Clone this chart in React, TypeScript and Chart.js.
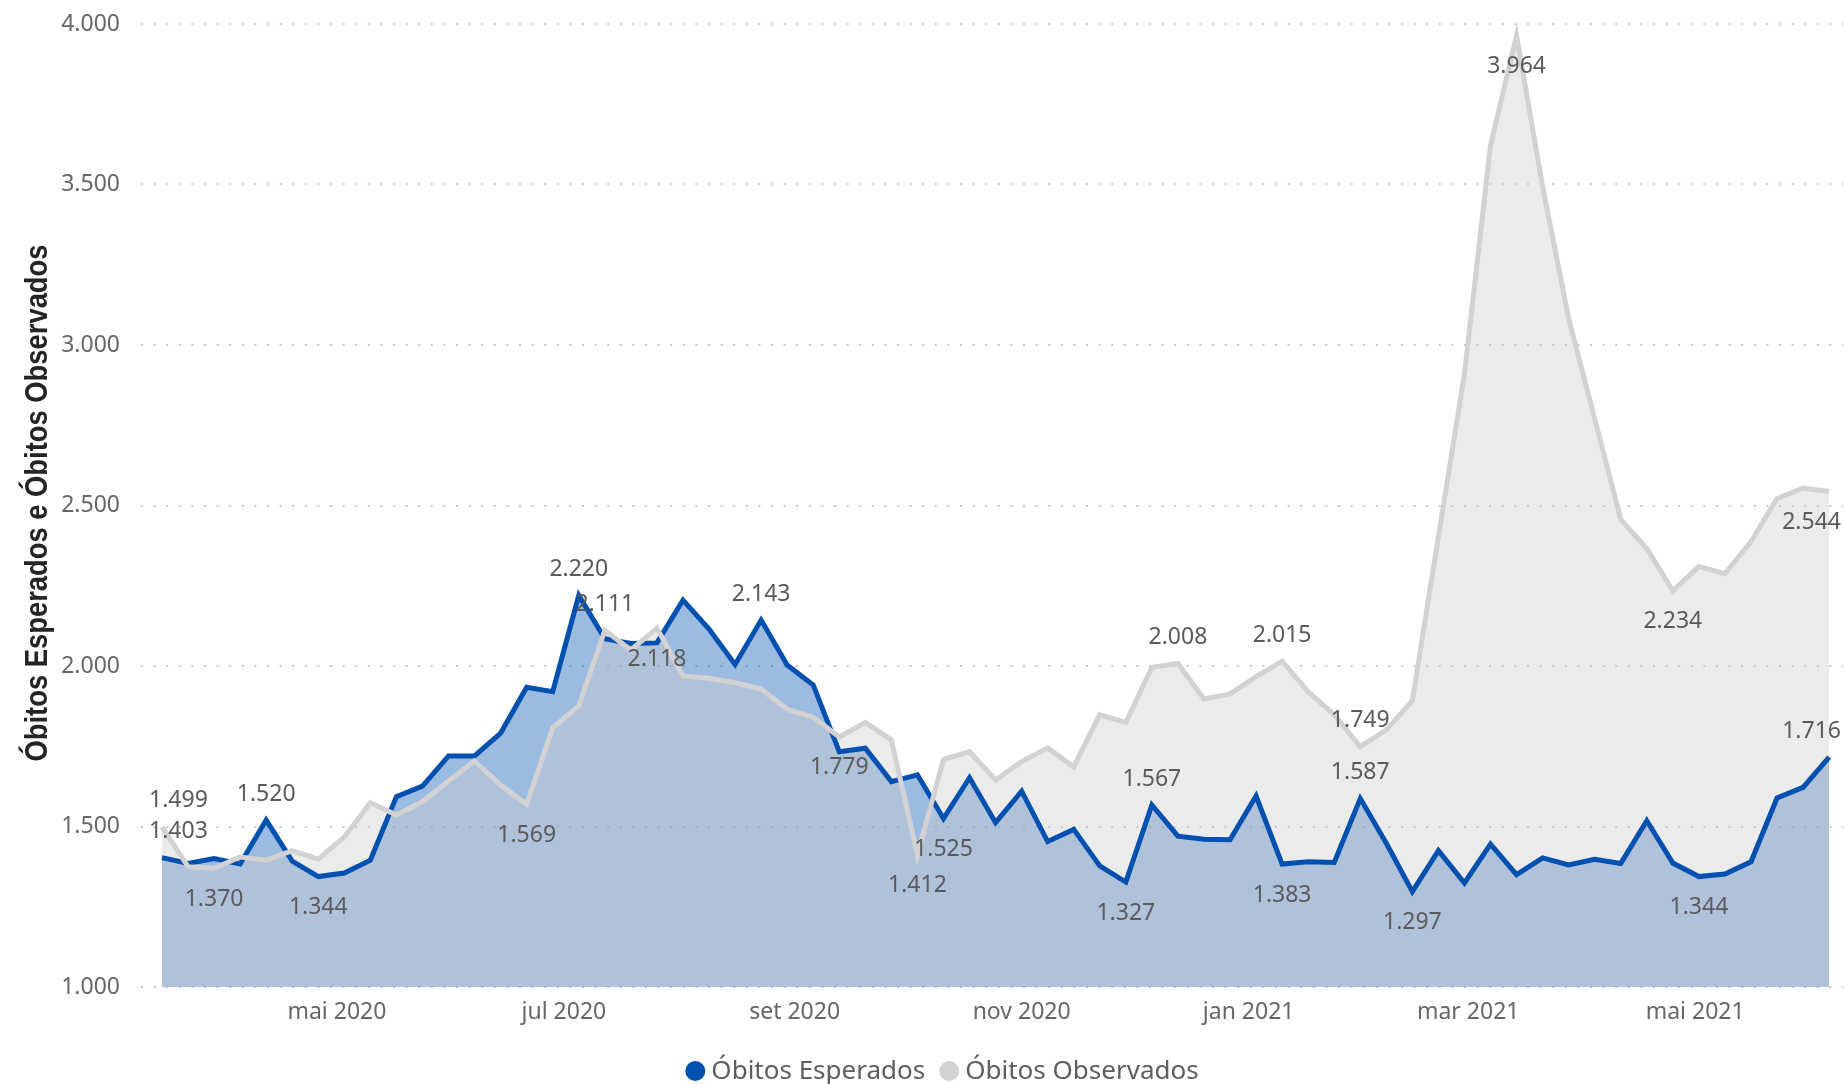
import React, { useEffect, useRef } from 'react';
import { Chart, registerables } from 'chart.js';

Chart.register(...registerables);

// Weekly categories (week dates)
const weekDates = [
  '2020-03-15', '2020-03-22', '2020-03-29', '2020-04-05', '2020-04-12', '2020-04-19', '2020-04-26',
  '2020-05-03', '2020-05-10', '2020-05-17', '2020-05-24', '2020-05-31', '2020-06-07', '2020-06-14',
  '2020-06-21', '2020-06-28', '2020-07-05', '2020-07-12', '2020-07-19', '2020-07-26', '2020-08-02',
  '2020-08-09', '2020-08-16', '2020-08-23', '2020-08-30', '2020-09-06', '2020-09-13', '2020-09-20',
  '2020-09-27', '2020-10-04', '2020-10-11', '2020-10-18', '2020-10-25', '2020-11-01', '2020-11-08',
  '2020-11-15', '2020-11-22', '2020-11-29', '2020-12-06', '2020-12-13', '2020-12-20', '2020-12-27',
  '2021-01-03', '2021-01-10', '2021-01-17', '2021-01-24', '2021-01-31', '2021-02-07', '2021-02-14',
  '2021-02-21', '2021-02-28', '2021-03-07', '2021-03-14', '2021-03-21', '2021-03-28', '2021-04-04',
  '2021-04-11', '2021-04-18', '2021-04-25', '2021-05-02', '2021-05-09', '2021-05-16', '2021-05-23',
  '2021-05-30', '2021-06-06',
];

const obitosEsperados = [
  1403, 1385, 1400, 1383, 1520, 1392, 1344, 1355, 1395, 1593, 1626, 1720, 1720, 1791, 1934, 1920,
  2220, 2085, 2070, 2072, 2205, 2115, 2005, 2143, 2003, 1941, 1733, 1744, 1640, 1661, 1525, 1652,
  1512, 1610, 1453, 1491, 1377, 1327, 1567, 1470, 1460, 1459, 1595, 1383, 1390, 1388, 1587, 1448,
  1297, 1425, 1324, 1445, 1350, 1402, 1380, 1398, 1385, 1518, 1386, 1344, 1352, 1390, 1589, 1622,
  1716,
];

const obitosObservados = [
  1499, 1375, 1370, 1405, 1395, 1425, 1398, 1468, 1574, 1536, 1577, 1642, 1704, 1629, 1569, 1808,
  1876, 2111, 2050, 2118, 1969, 1962, 1948, 1928, 1865, 1840, 1779, 1824, 1770, 1412, 1709, 1733,
  1645, 1702, 1745, 1686, 1848, 1824, 1996, 2008, 1897, 1913, 1967, 2015, 1920, 1848, 1749, 1801,
  1892, 2403, 2910, 3622, 3964, 3493, 3083, 2770, 2457, 2366, 2234, 2310, 2288, 2388, 2522, 2554,
  2544,
];

// Month tick labels on the date axis
const monthTickDates = ['2020-05-01', '2020-07-01', '2020-09-01', '2020-11-01', '2021-01-01', '2021-03-01', '2021-05-01'];
const monthTickLabels = ['mai 2020', 'jul 2020', 'set 2020', 'nov 2020', 'jan 2021', 'mar 2021', 'mai 2021'];

// Y ticks
const yMin = 1000;
const yMax = 4000;
const yStep = 500;

// Which points carry a data label (index, above/below)
const esperadosLabelIdx = [0, 4, 6, 16, 23, 30, 37, 38, 43, 46, 48, 59, 64];
const esperadosLabelPos = ['a', 'a', 'b', 'a', 'a', 'b', 'b', 'a', 'b', 'a', 'b', 'b', 'a'];
const observadosLabelIdx = [0, 2, 14, 17, 19, 26, 29, 39, 43, 46, 52, 58, 64];
const observadosLabelPos = ['a', 'b', 'b', 'a', 'b', 'b', 'b', 'a', 'a', 'a', 'b', 'b', 'b'];

const seriesNames = ['Óbitos Esperados', 'Óbitos Observados'];
const yAxisTitle = 'Óbitos Esperados e Óbitos Observados';

const BLUE = '#0050AF';
const GRAY = '#D2D2D4';
const FONT = '"Noto Sans", "Open Sans", sans-serif';

const DAY = 86400000;
const BASE = Date.UTC(2020, 2, 15);
const toDay = (s: string) => (Date.parse(s + 'T00:00:00Z') - BASE) / DAY;

const fmt = (v: number) => Math.round(v).toString().replace(/\B(?=(\d{3})+(?!\d))/g, '.');

const overlayPlugin = {
  id: 'overlay',
  afterDatasetsDraw(chart: any) {
    const ctx = chart.ctx;
    ctx.save();
    ctx.font = `23px ${FONT}`;
    ctx.fillStyle = '#5a5a5a';
    ctx.textAlign = 'center';
    ctx.textBaseline = 'middle';
    const draw = (dsIndex: number, idxs: number[], pos: string[], vals: number[]) => {
      const meta = chart.getDatasetMeta(dsIndex);
      idxs.forEach((i, k) => {
        const el = meta.data[i];
        if (!el) return;
        const txt = fmt(vals[i]);
        const w = ctx.measureText(txt).width;
        let x = el.x;
        if (x - w / 2 < 149) x = 149 + w / 2;
        if (x + w / 2 > 1841) x = 1841 - w / 2;
        const y = pos[k] === 'a' ? el.y - 26 : el.y + 31;
        ctx.fillText(txt, x, y);
      });
    };
    draw(1, esperadosLabelIdx, esperadosLabelPos, obitosEsperados);
    draw(0, observadosLabelIdx, observadosLabelPos, obitosObservados);
    ctx.restore();
  },
  afterDraw(chart: any) {
    const ctx = chart.ctx;
    ctx.save();
    // Y axis title (condensed bold, fitted to the reference length)
    const target = 517;
    const size = 32;
    const fam = '"Liberation Sans Narrow", "Liberation Sans", Arial, sans-serif';
    ctx.font = `bold ${size}px ${fam}`;
    const m = ctx.measureText(yAxisTitle).width;
    ctx.translate(47, 503);
    ctx.rotate(-Math.PI / 2);
    ctx.scale(target / m, 1);
    ctx.fillStyle = '#252423';
    ctx.textAlign = 'center';
    ctx.textBaseline = 'alphabetic';
    ctx.fillText(yAxisTitle, 0, 0);
    ctx.restore();

    // Legend
    ctx.save();
    ctx.font = `26px ${FONT}`;
    ctx.textBaseline = 'middle';
    ctx.textAlign = 'left';
    const r = 10;
    const gapCircleText = 6;
    const gapItems = 14;
    const colors = [BLUE, GRAY];
    const widths = seriesNames.map((n) => ctx.measureText(n).width);
    const total = widths.reduce((a, b) => a + b, 0) + 2 * (2 * r + gapCircleText) + gapItems;
    let x = 942 - total / 2;
    const cy = 1071;
    seriesNames.forEach((n, i) => {
      ctx.beginPath();
      ctx.arc(x + r, cy, r, 0, Math.PI * 2);
      ctx.fillStyle = colors[i];
      ctx.fill();
      x += 2 * r + gapCircleText;
      ctx.fillStyle = '#605E5C';
      ctx.fillText(n, x, cy + 1);
      x += widths[i] + gapItems;
    });
    ctx.restore();
  },
};

export default function App() {
  const ref = useRef<HTMLCanvasElement | null>(null);

  useEffect(() => {
    if (!ref.current) return;
    const xs = weekDates.map(toDay);
    const tickDays = monthTickDates.map(toDay);
    const chart = new Chart(ref.current, {
      type: 'line',
      data: {
        datasets: [
          {
            label: seriesNames[1],
            data: xs.map((x, i) => ({ x, y: obitosObservados[i] })),
            borderColor: GRAY,
            backgroundColor: 'rgba(205,205,207,0.4)',
            borderWidth: 5,
            fill: 'start',
            pointRadius: 0,
            tension: 0,
          },
          {
            label: seriesNames[0],
            data: xs.map((x, i) => ({ x, y: obitosEsperados[i] })),
            borderColor: BLUE,
            backgroundColor: 'rgba(0,81,175,0.39)',
            borderWidth: 5,
            fill: 'start',
            pointRadius: 0,
            tension: 0,
          },
        ],
      },
      options: {
        responsive: false,
        animation: false,
        devicePixelRatio: 1,
        layout: { padding: { left: 0, right: 1, top: 24, bottom: 0 } },
        plugins: {
          legend: { display: false },
          tooltip: { enabled: false },
          filler: { drawTime: 'beforeDatasetsDraw' },
        } as any,
        scales: {
          x: {
            type: 'linear',
            min: -5.64,
            max: 451.72,
            grid: { display: false },
            border: { display: false },
            ticks: {
              autoSkip: false,
              maxRotation: 0,
              padding: 4,
              color: '#666666',
              font: { family: FONT, size: 23 },
              callback: (_v: any, i: number) => monthTickLabels[i],
            },
            afterBuildTicks: (s: any) => {
              s.ticks = tickDays.map((v) => ({ value: v }));
            },
            afterFit: (s: any) => {
              s.height = 97;
              s.paddingLeft = 0;
              s.paddingRight = 0;
            },
          },
          y: {
            min: yMin,
            max: yMax,
            grid: { color: '#c8c8c8', lineWidth: 2, drawTicks: false },
            border: { display: false, dash: [2, 10.6] },
            ticks: {
              stepSize: yStep,
              padding: 21,
              color: '#666666',
              font: { family: FONT, size: 23 },
              callback: (v: any) => fmt(Number(v)),
            },
            afterFit: (s: any) => {
              s.width = 141;
              s.paddingTop = 0;
              s.paddingBottom = 0;
            },
          },
        } as any,
      },
      plugins: [overlayPlugin],
    });
    return () => chart.destroy();
  }, []);

  return (
    <div style={{ position: 'fixed', left: 0, top: 0, width: 1844, height: 1084, background: '#ffffff' }}>
      <canvas ref={ref} width={1844} height={1084} style={{ width: 1844, height: 1084, display: 'block' }} />
    </div>
  );
}
